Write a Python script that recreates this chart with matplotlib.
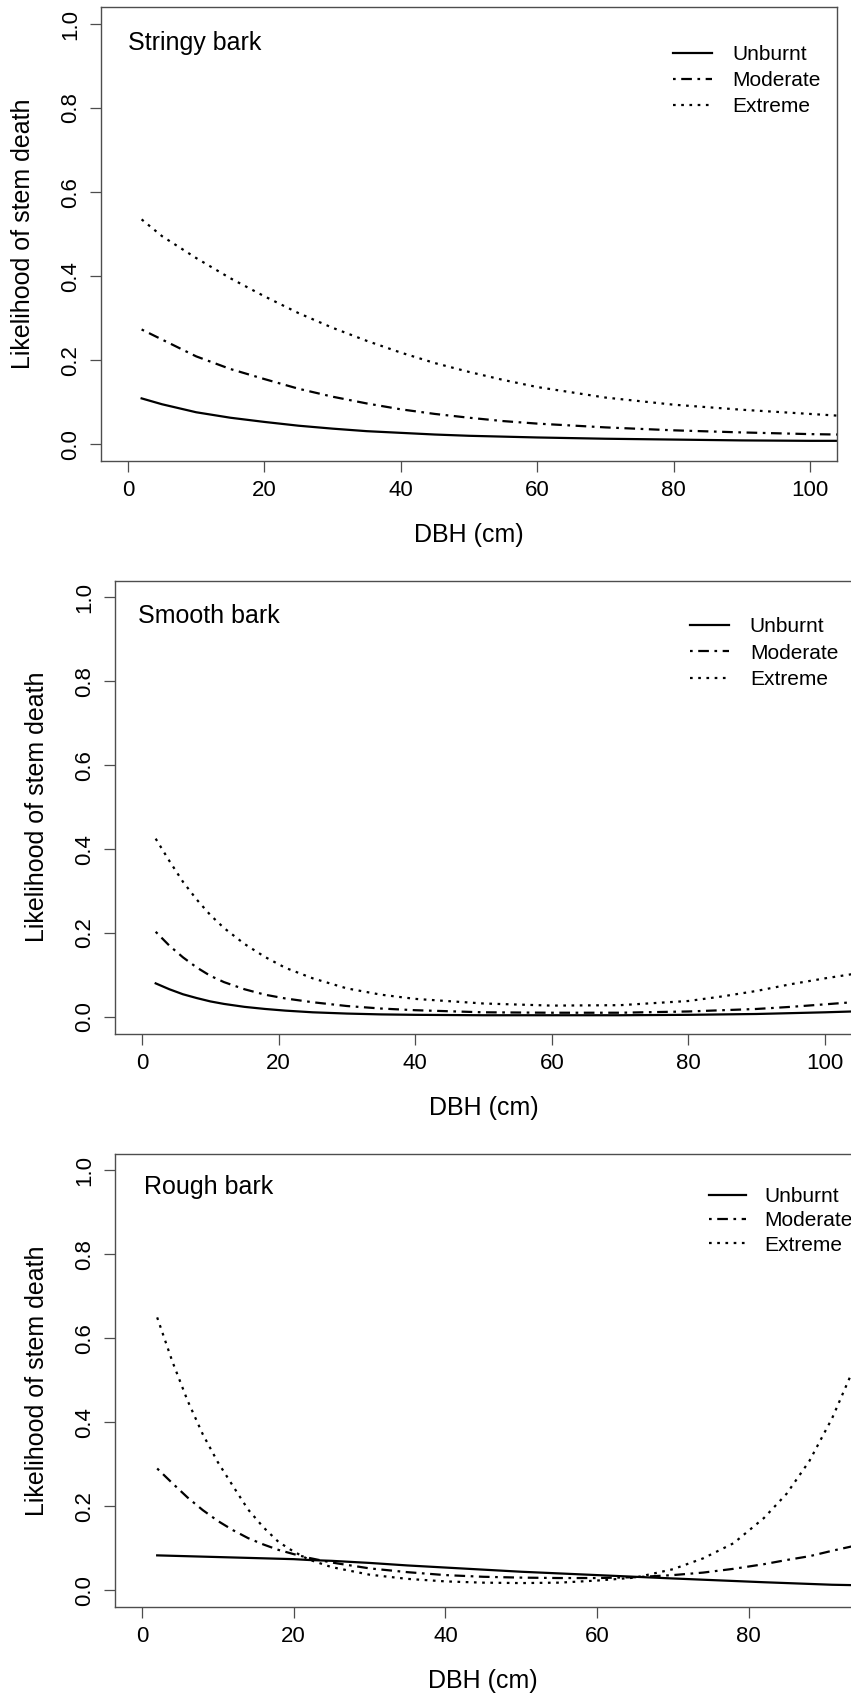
import matplotlib
matplotlib.use("Agg")
import matplotlib.pyplot as plt

plt.rcParams["font.family"] = ["Liberation Sans", "DejaVu Sans"]

# ---- data ----
series_names = ["Unburnt", "Moderate", "Extreme"]

# stringy bark
stringy_dbh = [2, 5, 10, 15, 20, 25, 30, 35, 40, 45, 50, 55, 60, 70, 80, 90, 100, 104]
stringy_unburnt = [0.109, 0.095, 0.076, 0.063, 0.053, 0.044, 0.037, 0.031, 0.027, 0.023,
                   0.020, 0.018, 0.016, 0.013, 0.011, 0.009, 0.008, 0.008]
stringy_moderate = [0.273, 0.249, 0.209, 0.179, 0.155, 0.132, 0.113, 0.097, 0.083, 0.072,
                    0.063, 0.055, 0.049, 0.040, 0.033, 0.028, 0.024, 0.023]
stringy_extreme = [0.535, 0.495, 0.443, 0.395, 0.352, 0.312, 0.277, 0.246, 0.218, 0.193,
                   0.172, 0.153, 0.136, 0.111, 0.094, 0.082, 0.072, 0.068]

# smooth bark
smooth_dbh = [2, 4, 6, 8, 10, 12, 15, 18, 21, 25, 30, 35, 40, 50, 60, 70, 80, 85, 90, 95, 100, 104]
smooth_unburnt = [0.080, 0.066, 0.054, 0.045, 0.037, 0.031, 0.024, 0.019, 0.015, 0.011, 0.008,
                  0.006, 0.005, 0.004, 0.004, 0.004, 0.005, 0.006, 0.007, 0.009, 0.011, 0.013]
smooth_moderate = [0.203, 0.170, 0.142, 0.118, 0.098, 0.083, 0.066, 0.053, 0.044, 0.035, 0.026,
                   0.020, 0.016, 0.011, 0.010, 0.010, 0.013, 0.016, 0.019, 0.024, 0.030, 0.035]
smooth_extreme = [0.425, 0.372, 0.322, 0.280, 0.243, 0.212, 0.174, 0.143, 0.117, 0.092, 0.068,
                  0.053, 0.043, 0.032, 0.027, 0.028, 0.038, 0.049, 0.062, 0.078, 0.092, 0.102]

# rough bark
rough_dbh = [2, 4, 6, 8, 10, 12, 14, 16, 18, 20, 22, 25, 30, 35, 40, 45, 50, 55, 60, 65,
             70, 74, 78, 82, 85, 88, 91, 94]
rough_unburnt = [0.083, 0.082, 0.081, 0.080, 0.079, 0.078, 0.077, 0.076, 0.075, 0.074, 0.072,
                 0.070, 0.065, 0.059, 0.054, 0.049, 0.044, 0.040, 0.036, 0.032, 0.028, 0.025,
                 0.022, 0.019, 0.017, 0.015, 0.013, 0.012]
rough_moderate = [0.290, 0.255, 0.221, 0.191, 0.165, 0.143, 0.124, 0.109, 0.096, 0.086, 0.077,
                  0.066, 0.052, 0.043, 0.036, 0.032, 0.030, 0.029, 0.029, 0.031, 0.036, 0.042,
                  0.051, 0.062, 0.072, 0.081, 0.094, 0.106]
rough_extreme = [0.650, 0.545, 0.452, 0.372, 0.305, 0.248, 0.192, 0.150, 0.115, 0.092, 0.073,
                 0.055, 0.037, 0.027, 0.021, 0.018, 0.017, 0.018, 0.023, 0.030, 0.050, 0.076,
                 0.112, 0.172, 0.230, 0.308, 0.410, 0.535]

panels = [
    ("Stringy bark", stringy_dbh, [stringy_unburnt, stringy_moderate, stringy_extreme], (-4, 104)),
    ("Smooth bark", smooth_dbh, [smooth_unburnt, smooth_moderate, smooth_extreme], (-4, 104)),
    ("Rough bark", rough_dbh, [rough_unburnt, rough_moderate, rough_extreme], (-3.6, 93.6)),
]

# R style line types: solid, dotdash, dotted
dash_styles = [None, (1.2, 2.5, 4.8, 2.5), (1.2, 2.5)]

W, H = 851, 1698
fig = plt.figure(figsize=(W / 100, H / 100), dpi=100)

# axes boxes in pixels: left, top, width, height
boxes = [(100.7, 7.2, 736.6, 453.8), (114.7, 580.7, 737.6, 453.0), (114.7, 1153.7, 737.2, 453.3)]
title_pos = [(0.037, 0.921), (0.032, 0.922), (0.040, 0.927)]
legend_pos = [(0.7766, 0.917), (0.780, 0.919), (0.806, 0.926)]
legend_gap = [0.35, 0.35, 0.25]
legend_handle = [(1.87, 1.0), (1.87, 1.0), (1.78, 0.87)]

edge = "#4d4d4d"

for i, (name, dbh, ys, xlim) in enumerate(panels):
    l, t, w, h = boxes[i]
    ax = fig.add_axes([l / W, (H - t - h) / H, w / W, h / H])
    for lab, y, ds in zip(series_names, ys, dash_styles):
        line, = ax.plot(dbh, y, color="black", lw=1.6, label=lab)
        if ds is not None:
            line.set_dashes(ds)
    ax.set_xlim(*xlim)
    ax.set_ylim(-0.04, 1.04)
    ax.set_yticks([0.0, 0.2, 0.4, 0.6, 0.8, 1.0])
    ax.set_yticklabels(["0.0", "0.2", "0.4", "0.6", "0.8", "1.0"])
    ax.set_xticks(list(range(0, int(xlim[1]) + 1, 20)))
    for s in ax.spines.values():
        s.set_color(edge)
        s.set_linewidth(1.0)
    ax.tick_params(length=8, width=0.9, color=edge, labelsize=16, pad=6)
    plt.setp(ax.get_yticklabels(), rotation=90, va="center")

    ax.set_xlabel("DBH (cm)", fontsize=18, va="center")
    ax.xaxis.set_label_coords(0.5, -74.3 / h)
    ax.set_ylabel("Likelihood of stem death", fontsize=18, va="center")
    ax.yaxis.set_label_coords(-77.7 / w, 0.5)

    tx, ty = title_pos[i]
    ax.text(tx, ty, name, transform=ax.transAxes, fontsize=18, va="center", ha="left")

    hl, hp = legend_handle[i]
    ax.legend(frameon=False, loc="upper left", bbox_to_anchor=legend_pos[i],
              fontsize=15, handlelength=hl, handletextpad=hp,
              labelspacing=legend_gap[i], borderpad=0, borderaxespad=0)

fig.savefig("out.png", dpi=100)
